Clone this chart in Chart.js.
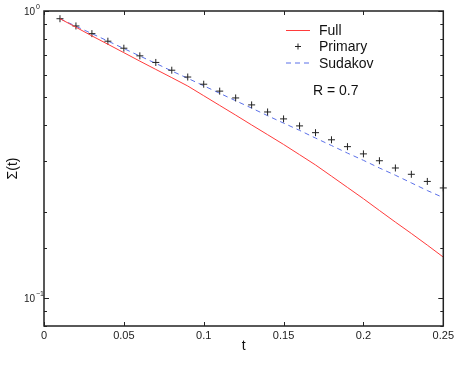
<!DOCTYPE html>
<html>
<head>
<meta charset="utf-8">
<script src="https://cdn.jsdelivr.net/npm/chart.js@4.4.0/dist/chart.umd.min.js"></script>
<style>body{margin:0;background:#fff}</style>
</head>
<body>
<canvas id="chart" width="457" height="370"></canvas>
<script>
// valeurs
const tValues = [0.01, 0.02, 0.03, 0.04, 0.05, 0.06, 0.07, 0.08, 0.09, 0.10, 0.11, 0.12, 0.13,
                 0.14, 0.15, 0.16, 0.17, 0.18, 0.19, 0.20, 0.21, 0.22, 0.23, 0.24, 0.25];
const full = [0.940, 0.878, 0.819, 0.766, 0.716, 0.669, 0.626, 0.586, 0.548, 0.507, 0.469, 0.434, 0.401,
              0.371, 0.343, 0.316, 0.291, 0.266, 0.243, 0.222, 0.202, 0.184, 0.168, 0.153, 0.139];
const primary = [0.940, 0.887, 0.834, 0.785, 0.742, 0.698, 0.662, 0.622, 0.589, 0.556, 0.526, 0.498, 0.471,
                 0.445, 0.421, 0.398, 0.377, 0.356, 0.337, 0.318, 0.301, 0.284, 0.270, 0.255, 0.242];
const sudakov = [0.940, 0.885, 0.834, 0.786, 0.740, 0.697, 0.657, 0.618, 0.583, 0.549, 0.517, 0.487, 0.459,
                 0.432, 0.407, 0.384, 0.361, 0.340, 0.320, 0.302, 0.284, 0.268, 0.252, 0.237, 0.224];
const yMajor = [{ v: 1, exp: '0' }, { v: 0.1, exp: '\u22121' }];
const legendNames = ['Full', 'Primary', 'Sudakov'];
const note = 'R = 0.7';

const FONT = '"Liberation Sans", Arial, sans-serif';
const toPts = arr => tValues.map((t, i) => ({ x: t, y: arr[i] }));

// cadre, graduations vers l'intérieur, étiquettes 10^n et légende
const decorations = {
    id: 'decorations',
    afterDraw(chart) {
        const { ctx, chartArea: a, scales: { x, y } } = chart;
        ctx.save();
        ctx.strokeStyle = '#222';
        ctx.lineWidth = 1.5;
        ctx.strokeRect(a.left, a.top, a.right - a.left, a.bottom - a.top);

        ctx.lineWidth = 1;
        ctx.beginPath();
        y.ticks.forEach(tk => {
            const py = Math.round(y.getPixelForValue(tk.value)) + 0.5;
            const lg = Math.log10(tk.value);
            const len = Math.abs(lg - Math.round(lg)) < 1e-9 ? 5 : 3;
            ctx.moveTo(a.left, py); ctx.lineTo(a.left + len, py);
            ctx.moveTo(a.right, py); ctx.lineTo(a.right - len, py);
        });
        x.ticks.forEach(tk => {
            const px = Math.round(x.getPixelForValue(tk.value)) + 0.5;
            ctx.moveTo(px, a.bottom); ctx.lineTo(px, a.bottom - 4);
            ctx.moveTo(px, a.top); ctx.lineTo(px, a.top + 4);
        });
        ctx.stroke();

        // étiquettes de l'axe y avec exposant
        ctx.fillStyle = '#222';
        yMajor.forEach(m => {
            const py = y.getPixelForValue(m.v);
            ctx.font = '10px ' + FONT;
            ctx.textAlign = 'right';
            ctx.textBaseline = 'middle';
            ctx.fillText('10', a.left - 9, py + 1);
            ctx.font = '7px ' + FONT;
            ctx.textAlign = 'left';
            ctx.fillText(m.exp, a.left - 8, py - 4);
        });

        // légende
        const ds = chart.data.datasets;
        const rows = [30.5, 46.5, 63];
        ctx.font = '14px ' + FONT;
        ctx.textBaseline = 'middle';
        ctx.textAlign = 'left';
        ds.forEach((d, i) => {
            const ly = rows[i];
            ctx.strokeStyle = d.borderColor;
            ctx.lineWidth = 1;
            if (d.showLine === false) {
                ctx.beginPath();
                ctx.moveTo(295, ly); ctx.lineTo(301, ly);
                ctx.moveTo(298, ly - 3); ctx.lineTo(298, ly + 3);
                ctx.stroke();
            } else {
                ctx.setLineDash(d.borderDash || []);
                ctx.beginPath();
                ctx.moveTo(286, ly); ctx.lineTo(310, ly);
                ctx.stroke();
                ctx.setLineDash([]);
            }
            ctx.fillStyle = '#111';
            ctx.fillText(legendNames[i], 319, ly + 1);
        });
        ctx.fillText(note, 313, 91);
        ctx.restore();
    }
};

const chart = new Chart(document.getElementById('chart'), {
    type: 'line',
    data: {
        datasets: [{
            label: legendNames[0],
            data: toPts(full),
            borderColor: '#ff3b3b',
            borderWidth: 1,
            pointRadius: 0,
            fill: false
        }, {
            label: legendNames[1],
            data: toPts(primary),
            showLine: false,
            borderColor: '#222',
            pointStyle: 'cross',
            pointRadius: 3.5,
            pointBorderWidth: 1,
            clip: 6
        }, {
            label: legendNames[2],
            data: toPts(sudakov),
            borderColor: '#5b70e8',
            borderWidth: 1,
            borderDash: [5, 4],
            pointRadius: 0,
            fill: false
        }]
    },
    options: {
        responsive: false,
        animation: false,
        devicePixelRatio: 1,
        layout: { padding: { left: 0, right: 12, top: 11, bottom: 0 } },
        plugins: { legend: { display: false }, tooltip: { enabled: false } },
        scales: {
            x: {
                type: 'linear',
                min: 0,
                max: 0.25,
                grid: { display: false, drawTicks: false },
                border: { display: false },
                ticks: {
                    stepSize: 0.05,
                    padding: 3,
                    maxRotation: 0,
                    color: '#222',
                    font: { size: 11, family: FONT },
                    callback: v => String(+v.toFixed(2))
                },
                title: {
                    display: true,
                    text: 't',
                    color: '#111',
                    font: { size: 14, family: FONT },
                    padding: { top: 0, bottom: 15 }
                },
                afterFit: s => { s.height = 44; }
            },
            y: {
                type: 'logarithmic',
                min: 0.08,
                max: 1,
                grid: { display: false, drawTicks: false },
                border: { display: false },
                ticks: { display: false, autoSkip: false },
                title: {
                    display: true,
                    text: 'Σ(t)',
                    color: '#111',
                    font: { size: 14, family: FONT },
                    padding: { top: 5, bottom: 0 }
                },
                afterFit: s => { s.width = 44; }
            }
        }
    },
    plugins: [decorations]
});
</script>
</body>
</html>
